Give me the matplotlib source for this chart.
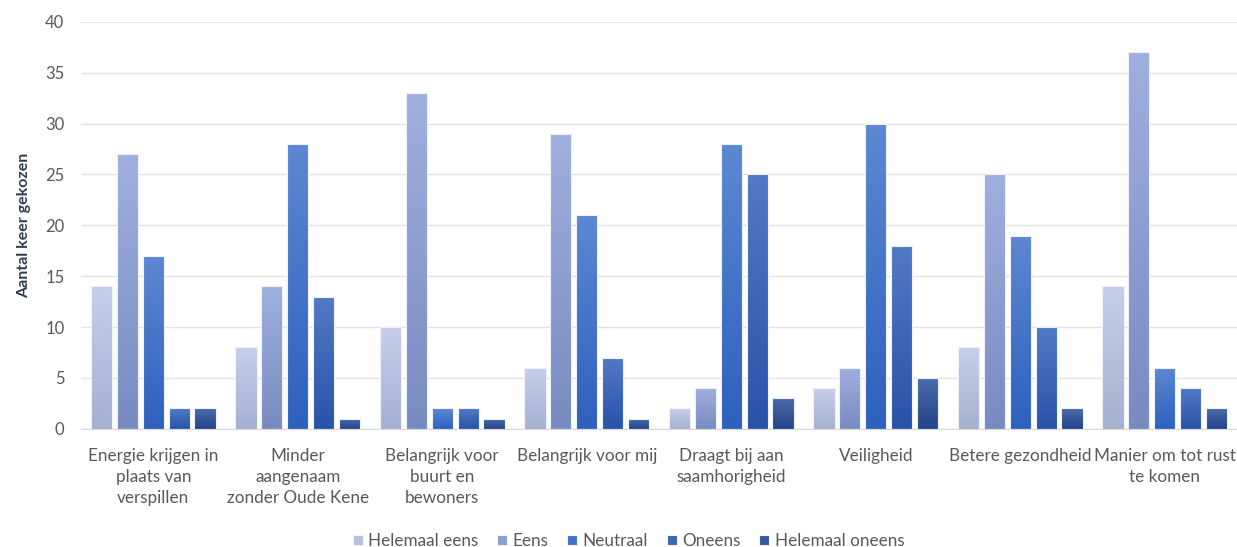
import numpy as np
import matplotlib
matplotlib.use("Agg")
import matplotlib.pyplot as plt
from matplotlib.colors import to_rgb

categories = [
    "Energie krijgen in\nplaats van\nverspillen",
    "Minder\naangenaam\nzonder Oude Kene",
    "Belangrijk voor\nbuurt en\nbewoners",
    "Belangrijk voor mij",
    "Draagt bij aan\nsaamhorigheid",
    "Veiligheid",
    "Betere gezondheid",
    "Manier om tot rust\nte komen",
]
series_names = ["Helemaal eens", "Eens", "Neutraal", "Oneens", "Helemaal oneens"]
helemaal_eens = [14, 8, 10, 6, 2, 4, 8, 14]
eens = [27, 14, 33, 29, 4, 6, 25, 37]
neutraal = [17, 28, 2, 21, 28, 30, 19, 6]
oneens = [2, 13, 2, 7, 25, 18, 10, 4]
helemaal_oneens = [2, 1, 1, 1, 3, 5, 2, 2]
series_values = [helemaal_eens, eens, neutraal, oneens, helemaal_oneens]

top_colors = ["#C7CEEA", "#9FAFDE", "#5C87D2", "#5179C6", "#4B6BAA"]
bot_colors = ["#A7B0D1", "#788BC1", "#2E61BE", "#2953A8", "#22448A"]
mid_colors = ["#B8C0E0", "#8C9ED2", "#4472C4", "#3D66B6", "#34589A"]

plt.rcParams['font.family'] = ['Lato', 'DejaVu Sans']

fig = plt.figure(figsize=(12.37, 5.47), dpi=100)
ax = fig.add_axes([0.0655, 0.216, 0.9345, 0.744])

x = np.arange(len(categories))
step = 0.179
width = 0.146
handles = []
for i, (name, vals) in enumerate(zip(series_names, series_values)):
    offs = (i - 2) * step
    bars = ax.bar(x + offs, vals, width, color=mid_colors[i], edgecolor="#F2F4FA",
                  linewidth=0.8, label=name, zorder=2)
    handles.append(bars)
    c_top = np.array(to_rgb(top_colors[i]))
    c_bot = np.array(to_rgb(bot_colors[i]))
    grad = np.linspace(0, 1, 64)[:, None]
    img = (c_top[None, :] * (1 - grad) + c_bot[None, :] * grad)[:, None, :]
    for p in bars.patches:
        bx, by, bw, bh = p.get_x(), p.get_y(), p.get_width(), p.get_height()
        im = ax.imshow(img, extent=[bx, bx + bw, by, by + bh], aspect='auto',
                       zorder=2.5, interpolation='bilinear')
        im.set_clip_path(p)
    for p in bars.patches:
        e = plt.Rectangle((p.get_x(), p.get_y()), p.get_width(), p.get_height(),
                          fill=False, edgecolor="#EEF1F9", linewidth=0.8, zorder=3)
        ax.add_patch(e)

ax.set_xlim(-0.5, len(categories) - 0.5)
ax.set_ylim(0, 40)
ax.set_yticks(range(0, 41, 5))
ax.yaxis.grid(True, color="#E3E3E3", linewidth=1.0, zorder=0)
ax.set_axisbelow(True)
for s in ["top", "right", "left"]:
    ax.spines[s].set_visible(False)
ax.spines["bottom"].set_color("#D9D9D9")
ax.tick_params(axis='y', length=0, labelsize=12, labelcolor="#595959", pad=12)
ax.tick_params(axis='x', length=0, labelsize=12.3, labelcolor="#595959", pad=14)
ax.set_xticks(x)
ax.set_xticklabels(categories, linespacing=1.38, va='top')
ax.set_ylabel("Aantal keer gekozen", fontsize=11.5, color="#2F3C53", fontweight='bold', labelpad=10)

fig.legend(handles=handles, labels=series_names, loc='center', bbox_to_anchor=(0.508, 0.011),
           ncol=5, frameon=False, fontsize=12.3, handlelength=0.6, handleheight=0.6,
           handletextpad=0.3, columnspacing=1.1, labelcolor="#595959")

fig.savefig("out.png", dpi=100)
